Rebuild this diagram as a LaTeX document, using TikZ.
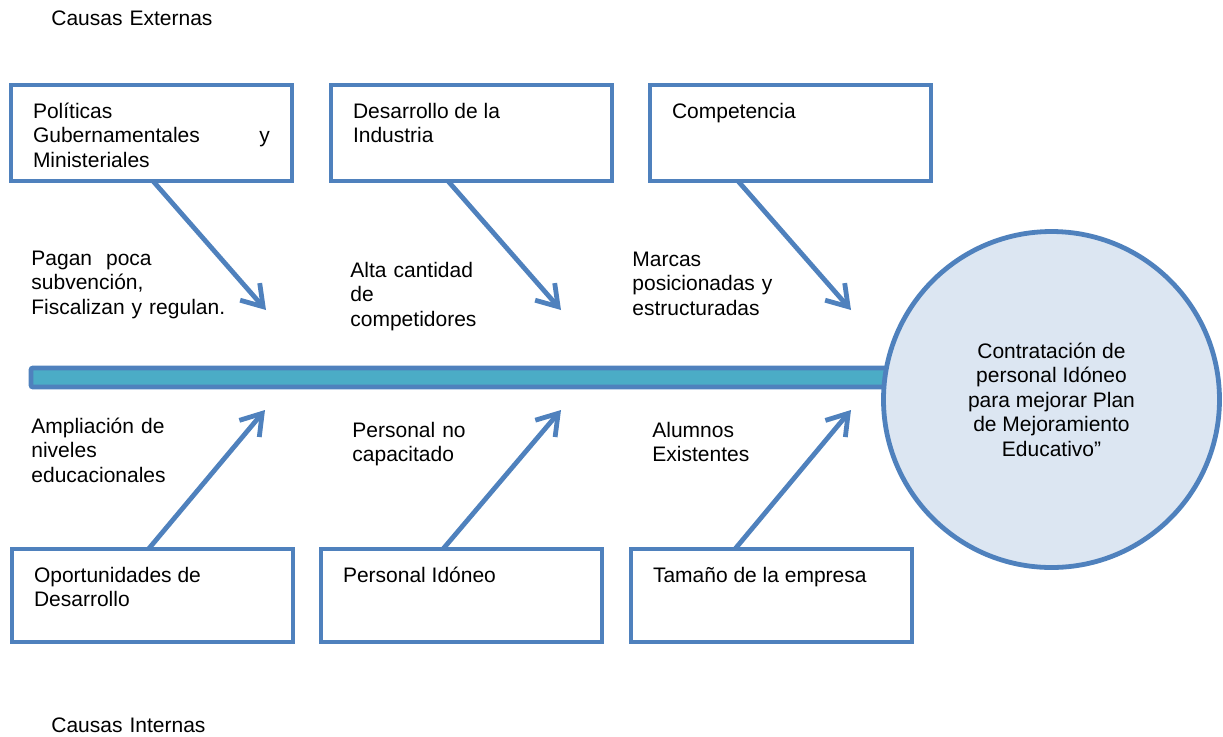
\documentclass[tikz,border=0pt]{standalone}
\usepackage{fontspec}
\setmainfont{Liberation Sans}
\usetikzlibrary{arrows.meta}
\definecolor{borde}{RGB}{79,129,189}
\definecolor{espina}{RGB}{75,172,198}
\definecolor{fondo}{RGB}{220,230,242}
\newcommand{\dentro}[2]{\parbox[t][#1][t]{118.5pt}{\rule{0pt}{16.5pt}#2}}

\begin{document}
\begin{tikzpicture}[x=0.5pt, y=-0.5pt, font=\fontsize{10.5}{12.25}\selectfont,
    caja/.style={draw=borde, line width=2.4pt, fill=white, inner xsep=11pt, inner ysep=0pt, outer sep=0pt, anchor=north west},
    rotulo/.style={inner sep=0pt, anchor=base west, text width=110pt, align=left},
    flecha/.style={draw=borde, line width=2.4pt, -{Straight Barb[length=10pt, width=13pt]}}]

                  \useasboundingbox (0, 0) rectangle (1223, 736);

                  \node[rotulo] (externas) at (51, 25){Causas Externas};
                  \node[rotulo] (internas) at (51, 732){Causas Internas};

                  \node[caja] (politicas) at (11, 85){\dentro{48pt}{Políticas\\Gubernamentales\hfill y\\Ministeriales}};
                  \node[caja] (industria) at (331, 85){\dentro{48pt}{Desarrollo de la\\Industria}};
                  \node[caja] (competencia) at (650, 85){\dentro{48pt}{Competencia}};
                  \node[caja] (oportunidades) at (12, 549){\dentro{46.5pt}{Oportunidades de\\Desarrollo}};
                  \node[caja] (idoneo) at (321, 549){\dentro{46.5pt}{Personal Idóneo}};
                  \node[caja] (tamano) at (631, 549){\dentro{46.5pt}{Tamaño de la empresa}};

                   \draw[draw=borde, fill=espina, line width=2.4pt, rounded corners=1pt] (31, 368) rectangle (895, 387);

                  \node[circle, draw=borde, fill=fondo, line width=2.4pt, minimum size=168pt, inner sep=0pt, align=center] (efecto) at (1051.5, 399.5){Contratación de\\personal Idóneo\\para mejorar Plan\\de Mejoramiento\\Educativo”};

                  \coordinate (punta1) at (266, 310);
                  \coordinate (punta2) at (561, 310);
                  \coordinate (punta3) at (851, 310);
                  \coordinate (punta4) at (265, 410);
                  \coordinate (punta5) at (561, 410);
                  \coordinate (punta6) at (851, 410);

                   \draw[flecha] ([xshift=0.75pt]politicas.south) to (punta1);
                   \draw[flecha] ([xshift=-11.75pt]industria.south) to (punta2);
                   \draw[flecha] ([xshift=-26.25pt]competencia.south) to (punta3);
                   \draw[flecha] ([xshift=-2pt]oportunidades.north) to (punta4);
                   \draw[flecha] ([xshift=-9.25pt]idoneo.north) to (punta5);
                   \draw[flecha] ([xshift=-18.25pt]tamano.north) to (punta6);

                  \node[rotulo] (pagan) at (31, 265){Pagan\hspace{7pt}poca\\subvención,\\Fiscalizan y regulan.};
                  \node[rotulo] (alta) at (350, 277){Alta cantidad\\de\\competidores};
                  \node[rotulo] (marcas) at (632, 266){Marcas\\posicionadas y\\estructuradas};
                  \node[rotulo] (ampliacion) at (31, 433){Ampliación de\\niveles\\educacionales};
                  \node[rotulo] (nocapacitado) at (352, 437){Personal no\\capacitado};
                  \node[rotulo] (alumnos) at (652, 437){Alumnos\\Existentes};

\end{tikzpicture}
\end{document}
